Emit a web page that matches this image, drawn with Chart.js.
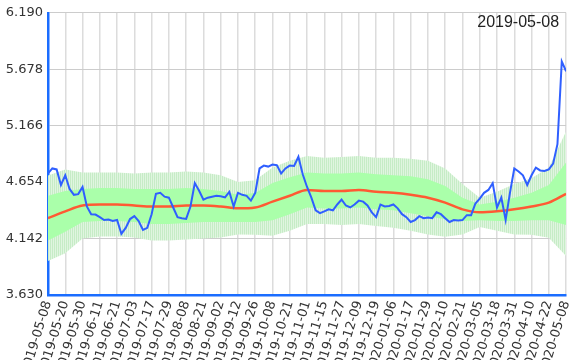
<!DOCTYPE html>
<html>
<head>
<meta charset="utf-8">
<script src="https://cdn.jsdelivr.net/npm/chart.js@4"></script>
<style>
html, body { margin: 0; padding: 0; background: #fff; overflow: hidden; }
#wrap { width: 585px; height: 360px; }
</style>
</head>
<body>
<div id="wrap"><canvas id="navChart" width="585" height="360"></canvas></div>
<script>
// date shown in the corner
const titleDate = '2019-05-08';

// dates under the x axis (one every 8 trading days)
const tickDates = ['2019-05-08', '2019-05-20', '2019-05-30', '2019-06-11', '2019-06-21', '2019-07-03',
    '2019-07-17', '2019-07-29', '2019-08-08', '2019-08-21', '2019-09-02', '2019-09-12', '2019-09-26',
    '2019-10-08', '2019-10-21', '2019-11-01', '2019-11-15', '2019-11-27', '2019-12-09', '2019-12-19',
    '2020-01-06', '2020-01-17', '2020-01-29', '2020-02-10', '2020-02-21', '2020-03-05', '2020-03-18',
    '2020-03-31', '2020-04-10', '2020-04-22', '2020-05-08'];

const yTicks = [3.630, 4.142, 4.654, 5.166, 5.678, 6.190];

// price, one value every 2 trading days
const price = [4.733, 4.778, 4.769, 4.628, 4.716, 4.592, 4.539, 4.545, 4.610, 4.433,
    4.363, 4.360, 4.336, 4.310, 4.315, 4.301, 4.310, 4.186, 4.239, 4.319,
    4.345, 4.301, 4.221, 4.239, 4.363, 4.548, 4.557, 4.522, 4.513, 4.424,
    4.336, 4.327, 4.320, 4.433, 4.645, 4.575, 4.495, 4.513, 4.522, 4.530,
    4.525, 4.515, 4.566, 4.433, 4.557, 4.539, 4.530, 4.486, 4.557, 4.778,
    4.804, 4.795, 4.813, 4.808, 4.733, 4.778, 4.804, 4.800, 4.884, 4.725,
    4.610, 4.513, 4.398, 4.372, 4.389, 4.407, 4.398, 4.451, 4.495, 4.442,
    4.424, 4.451, 4.486, 4.477, 4.442, 4.380, 4.336, 4.451, 4.433, 4.438,
    4.451, 4.416, 4.363, 4.336, 4.292, 4.310, 4.345, 4.327, 4.333, 4.327,
    4.380, 4.363, 4.327, 4.292, 4.310, 4.305, 4.310, 4.354, 4.354, 4.460,
    4.504, 4.557, 4.583, 4.645, 4.424, 4.513, 4.310, 4.557, 4.778, 4.751,
    4.716, 4.628, 4.716, 4.786, 4.760, 4.755, 4.769, 4.822, 4.998, 5.749,
    5.660];

// moving average and bands, one value per tick date
const avg = [4.327, 4.389, 4.442, 4.451, 4.451, 4.442, 4.433, 4.433, 4.442, 4.442,
    4.433, 4.416, 4.424, 4.477, 4.530, 4.583, 4.574, 4.574, 4.583, 4.566,
    4.557, 4.539, 4.513, 4.468, 4.407, 4.380, 4.389, 4.407, 4.433, 4.468, 4.548];
const innerHi = [4.530, 4.574, 4.592, 4.601, 4.601, 4.592, 4.592, 4.592, 4.601, 4.592,
    4.574, 4.540, 4.556, 4.645, 4.698, 4.742, 4.733, 4.733, 4.742, 4.725,
    4.716, 4.707, 4.681, 4.618, 4.513, 4.451, 4.477, 4.513, 4.557, 4.627, 4.831];
const innerLo = [4.124, 4.204, 4.292, 4.301, 4.301, 4.292, 4.274, 4.274, 4.283, 4.292,
    4.292, 4.292, 4.292, 4.309, 4.362, 4.424, 4.415, 4.415, 4.424, 4.407,
    4.398, 4.371, 4.345, 4.318, 4.301, 4.309, 4.301, 4.301, 4.309, 4.309, 4.266];
const outerHi = [4.715, 4.769, 4.742, 4.742, 4.742, 4.733, 4.742, 4.742, 4.751, 4.742,
    4.716, 4.654, 4.671, 4.786, 4.848, 4.892, 4.874, 4.883, 4.892, 4.875,
    4.875, 4.866, 4.848, 4.777, 4.637, 4.512, 4.566, 4.637, 4.689, 4.786, 5.113];
const outerLo = [3.939, 4.009, 4.142, 4.160, 4.160, 4.151, 4.124, 4.124, 4.133, 4.142,
    4.151, 4.178, 4.177, 4.168, 4.212, 4.274, 4.274, 4.265, 4.274, 4.257,
    4.239, 4.212, 4.178, 4.159, 4.178, 4.248, 4.212, 4.178, 4.177, 4.150, 3.983];

const lastIdx = (tickDates.length - 1) * 8;

function pts(vals, step) {
    return vals.map((v, i) => ({ x: i * step, y: v }));
}

// hatch pattern for the outer band
const pc = document.createElement('canvas');
pc.width = 2;
pc.height = 1;
const pctx = pc.getContext('2d');
pctx.fillStyle = 'rgb(198,236,198)';
pctx.fillRect(0, 0, 1, 1);
pctx.fillStyle = 'rgb(224,245,224)';
pctx.fillRect(1, 0, 1, 1);
const stripes = pctx.createPattern(pc, 'repeat');

const dateLabel = {
    id: 'dateLabel',
    afterDraw(chart) {
        const c = chart.ctx;
        c.save();
        c.font = '16px "Liberation Sans"';
        c.fillStyle = '#222';
        c.textAlign = 'right';
        c.textBaseline = 'alphabetic';
        c.fillText(titleDate, chart.chartArea.right - 7, 27);
        c.restore();
    }
};

const axisFont = { family: 'DejaVu Sans', size: 13 };

const navChart = new Chart(document.getElementById('navChart').getContext('2d'), {
    type: 'line',
    data: {
        datasets: [
            { data: pts(price, 2), borderColor: '#2f5fff', borderWidth: 2, pointRadius: 0, tension: 0 },
            { data: pts(avg, 8), borderColor: '#ff5a33', borderWidth: 2.5, pointRadius: 0, cubicInterpolationMode: 'monotone' },
            { data: pts(innerHi, 8), borderWidth: 0, pointRadius: 0, fill: '+1', backgroundColor: 'rgb(170,255,170)' },
            { data: pts(innerLo, 8), borderWidth: 0, pointRadius: 0, fill: false },
            { data: pts(outerHi, 8), borderWidth: 0, pointRadius: 0, fill: '+1', backgroundColor: stripes },
            { data: pts(outerLo, 8), borderWidth: 0, pointRadius: 0, fill: false }
        ]
    },
    options: {
        responsive: false,
        animation: false,
        plugins: {
            legend: { display: false },
            tooltip: { enabled: false }
        },
        layout: { padding: { top: 4, right: 8 } },
        scales: {
            x: {
                type: 'linear',
                min: 0,
                max: lastIdx,
                afterBuildTicks: s => { s.ticks = tickDates.map((d, i) => ({ value: i * 8 })); },
                afterFit: s => { s.height = 65; },
                ticks: {
                    autoSkip: false,
                    minRotation: 73,
                    maxRotation: 73,
                    padding: 4,
                    font: axisFont,
                    color: '#333',
                    callback: (v, i) => tickDates[i]
                },
                grid: { color: '#dcdcdc', lineWidth: 1.5, drawTicks: false },
                border: { color: '#1a6dff', width: 2.5 }
            },
            y: {
                min: 3.63,
                max: 6.19,
                afterBuildTicks: s => { s.ticks = yTicks.map(v => ({ value: v })); },
                afterFit: s => { s.width = 48; },
                ticks: {
                    padding: 5,
                    font: axisFont,
                    color: '#333',
                    callback: v => v.toFixed(3)
                },
                grid: { color: '#cccccc', drawTicks: false },
                border: { color: '#1a6dff', width: 2.5 }
            }
        }
    },
    plugins: [dateLabel]
});
</script>
</body>
</html>
